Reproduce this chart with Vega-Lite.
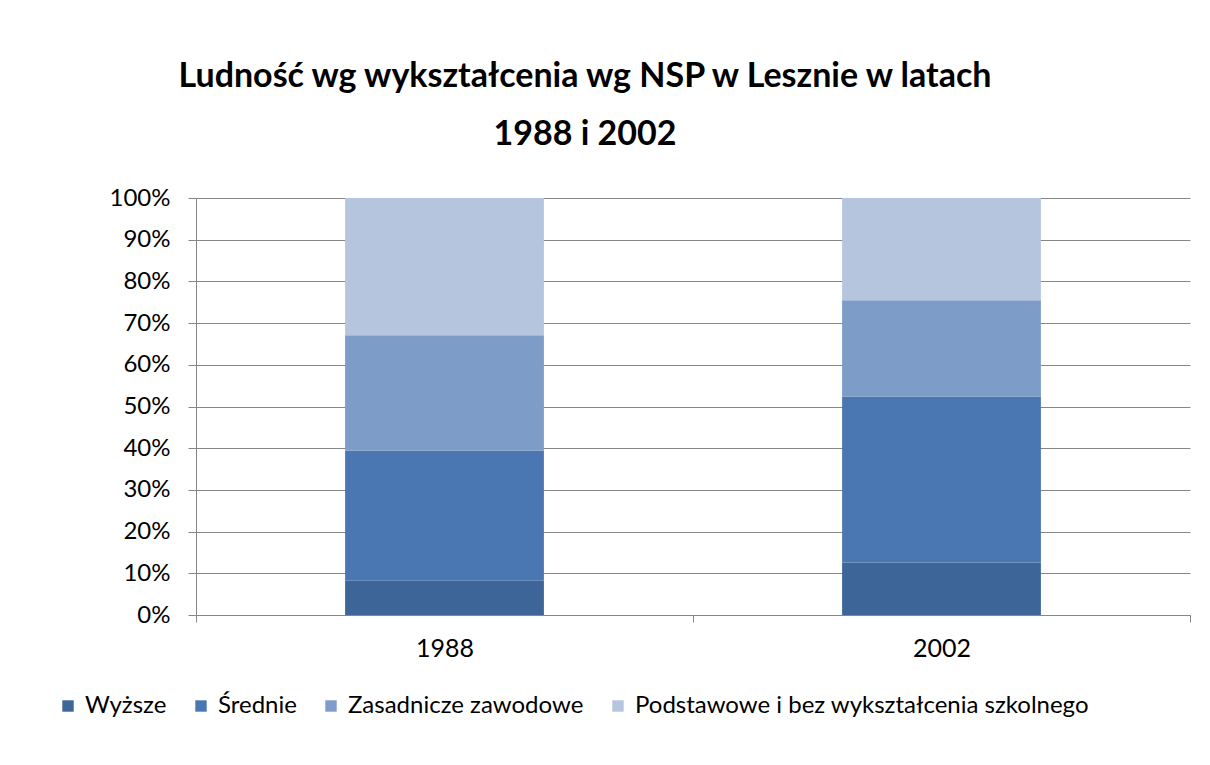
{
  "$schema": "https://vega.github.io/schema/vega-lite/v6.json",
  "width": 994,
  "height": 417,
  "autosize": {"type": "none"},
  "padding": {"left": 196, "top": 198, "right": 20, "bottom": 150},
  "background": "white",
  "title": {
    "text": ["Ludność wg wykształcenia wg NSP w Lesznie w latach", "1988 i 2002"],
    "anchor": "middle",
    "dx": -108,
    "font": "Lato",
    "fontSize": 34,
    "fontWeight": "bold",
    "color": "#000000",
    "lineHeight": 58,
    "offset": 34
  },
  "data": {
    "values": [
      {"rok": "1988", "wyksztalcenie": "Wyższe", "kolejnosc": 1, "udzial": 8.2},
      {"rok": "1988", "wyksztalcenie": "Średnie", "kolejnosc": 2, "udzial": 31.2},
      {"rok": "1988", "wyksztalcenie": "Zasadnicze zawodowe", "kolejnosc": 3, "udzial": 27.7},
      {"rok": "1988", "wyksztalcenie": "Podstawowe i bez wykształcenia szkolnego", "kolejnosc": 4, "udzial": 32.9},
      {"rok": "2002", "wyksztalcenie": "Wyższe", "kolejnosc": 1, "udzial": 12.6},
      {"rok": "2002", "wyksztalcenie": "Średnie", "kolejnosc": 2, "udzial": 39.8},
      {"rok": "2002", "wyksztalcenie": "Zasadnicze zawodowe", "kolejnosc": 3, "udzial": 23.1},
      {"rok": "2002", "wyksztalcenie": "Podstawowe i bez wykształcenia szkolnego", "kolejnosc": 4, "udzial": 24.5}
    ]
  },
  "mark": {"type": "bar", "width": {"band": 0.4}},
  "encoding": {
    "x": {
      "field": "rok",
      "type": "nominal",
      "scale": {"paddingInner": 0, "paddingOuter": 0},
      "axis": {
        "title": null,
        "labelAngle": 0,
        "tickBand": "extent",
        "grid": false,
        "domainColor": "#868686",
        "tickColor": "#868686",
        "tickSize": 7,
        "labelFont": "Lato",
        "labelFontSize": 25,
        "labelColor": "#000000",
        "labelPadding": 14
      }
    },
    "y": {
      "field": "udzial",
      "type": "quantitative",
      "stack": "normalize",
      "scale": {"domain": [0, 1]},
      "axis": {
        "title": null,
        "format": ".0%",
        "values": [0, 0.1, 0.2, 0.3, 0.4, 0.5, 0.6, 0.7, 0.8, 0.9, 1],
        "grid": true,
        "gridColor": "#868686",
        "domainColor": "#868686",
        "tickColor": "#868686",
        "tickSize": 8,
        "labelFont": "Lato",
        "labelFontSize": 24,
        "labelColor": "#000000",
        "labelPadding": 18
      }
    },
    "color": {
      "field": "wyksztalcenie",
      "type": "nominal",
      "scale": {
        "domain": ["Wyższe", "Średnie", "Zasadnicze zawodowe", "Podstawowe i bez wykształcenia szkolnego"],
        "range": ["#3E6598", "#4A77B1", "#7D9CC8", "#B6C5DE"]
      },
      "legend": {
        "title": null,
        "orient": "none",
        "direction": "horizontal",
        "legendX": -140,
        "legendY": 496,
        "symbolType": "square",
        "symbolSize": 130,
        "symbolStrokeWidth": 0,
        "labelFont": "Lato",
        "labelFontSize": 24,
        "labelColor": "#000000",
        "labelOffset": 5,
        "labelLimit": 0,
        "columnPadding": 22
      }
    },
    "order": {"field": "kolejnosc", "type": "quantitative"}
  },
  "config": {"view": {"stroke": null}}
}
